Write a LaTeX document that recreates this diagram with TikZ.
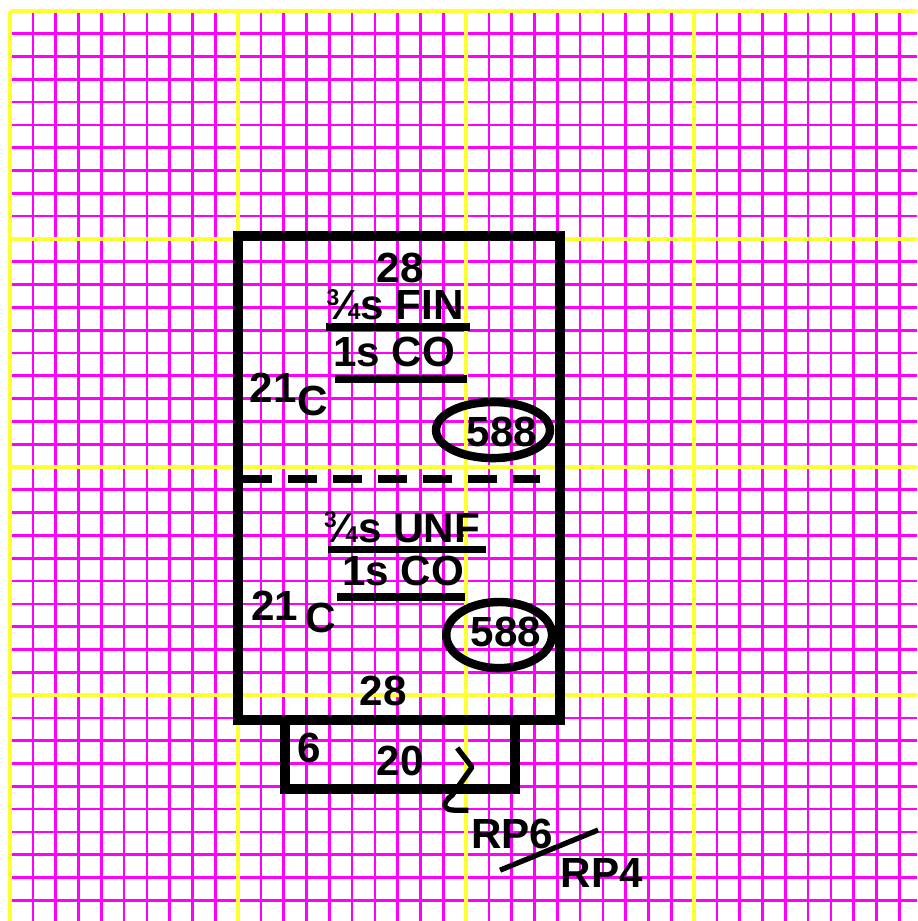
\documentclass[tikz,border=0pt]{standalone}
\usepackage{fontspec}
\setmainfont{Liberation Sans}
\usetikzlibrary{calc}
\definecolor{GridPink}{HTML}{FF00FF}
\definecolor{GridGold}{HTML}{FFFF33}
\newcommand{\tq}{\raisebox{0.34em}{\fontsize{13}{13}\selectfont 3}\kern0.02em⁄\kern0.02em{\fontsize{13}{13}\selectfont 4}}
\tikzset{
  finegrid/.style={draw=GridPink, line width=1.5pt},
  majorgrid/.style={draw=GridGold, line width=2.4pt},
  wall/.style={draw=black, line width=5.7pt},
  divider/.style={draw=black, line width=4.5pt, dash pattern=on 0.58cm off 0.32cm},
  bar/.style={draw=black, line width=4.4pt},
  ring/.style={draw=black, line width=4.8pt},
  pen/.style={draw=black, line width=3pt, line join=round},
  tag/.style={anchor=base, inner sep=0pt, text height=17pt, text depth=0pt,
    font=\bfseries\fontsize{24}{28}\selectfont}
}

\begin{document}
\begin{tikzpicture}[x=0.456cm,y=-0.456cm]
    \useasboundingbox (-0.44,-0.48) rectangle (39.78,39.91);
    \fill[white] (-0.44,-0.48) rectangle (39.78,39.91);
    \begin{scope}
      \clip (-0.44,-0.48) rectangle (39.78,39.91);
      \foreach \i in {0,...,39} {
        \draw[finegrid] (\i,0) -- (\i,40); \draw[finegrid] (0,\i) -- (40,\i);
      }
      \foreach \i in {0,10,20,30} {
        \draw[majorgrid] (\i,0) -- (\i,40); \draw[majorgrid] (0,\i) -- (40,\i);
      }
    \end{scope}

    \draw[wall] (10,9.85) rectangle (24.1,31.1);
    \draw[wall] (12.06,31.1) rectangle (22.15,34.12);
    \draw[divider] (10.22,20.53) -- (23.25,20.53);

    % upper part
    \node[tag] (fin28) at (17.11,11.89) {28};
    \node[tag] (finsize) at (16.89,13.55) {\tq s FIN};
    \draw[bar] (13.86,13.86) -- (20.18,13.86);
    \node[tag] (fincore) at (16.84,15.61) {1s CO};
    \draw[bar] (14.25,16.14) -- (20.04,16.14);
    \node[tag] (fin21) at (11.54,17.19) {21}; \node[tag] (finC) at (13.29,17.72) {C};
    \node[tag] (fin588) at (21.58,19.12) {588};
    \draw[ring] (21.18,18.38) ellipse [x radius=2.5, y radius=1.23];

    % lower part
    \node[tag] (unfsize) at (17.19,23.29) {\tq s UNF};
    \draw[bar] (13.95,23.62) -- (20.88,23.62);
    \node[tag] (unfcore) at (17.24,25.18) {1s CO};
    \draw[bar] (14.34,25.7) -- (19.96,25.7);
    \node[tag] (unf21) at (11.62,26.71) {21}; \node[tag] (unfC) at (13.64,27.24) {C};
    \node[tag] (unf588) at (21.75,27.89) {588};
    \draw[ring] (21.45,27.37) ellipse [x radius=2.32, y radius=1.45];
    \node[tag] (unf28) at (16.36,30.44) {28};

    % base
    \node[tag] (base6) at (13.11,32.94) {6}; \node[tag] (base20) at (17.11,33.51) {20};
    \node[tag] (rp6) at (22.02,36.71) {RP6}; \node[tag] (rp4) at (25.96,38.46) {RP4};
    \draw[pen] (19.61,32.32) -- (20.26,33.16) -- (19.39,34.39)
      .. controls (18.9,34.75) and (19.0,35.05) .. (19.5,35.05) -- (20.1,35.05);
    \draw[pen] (21.49,37.68) -- (25.79,35.92);
  \end{tikzpicture}
\end{document}
